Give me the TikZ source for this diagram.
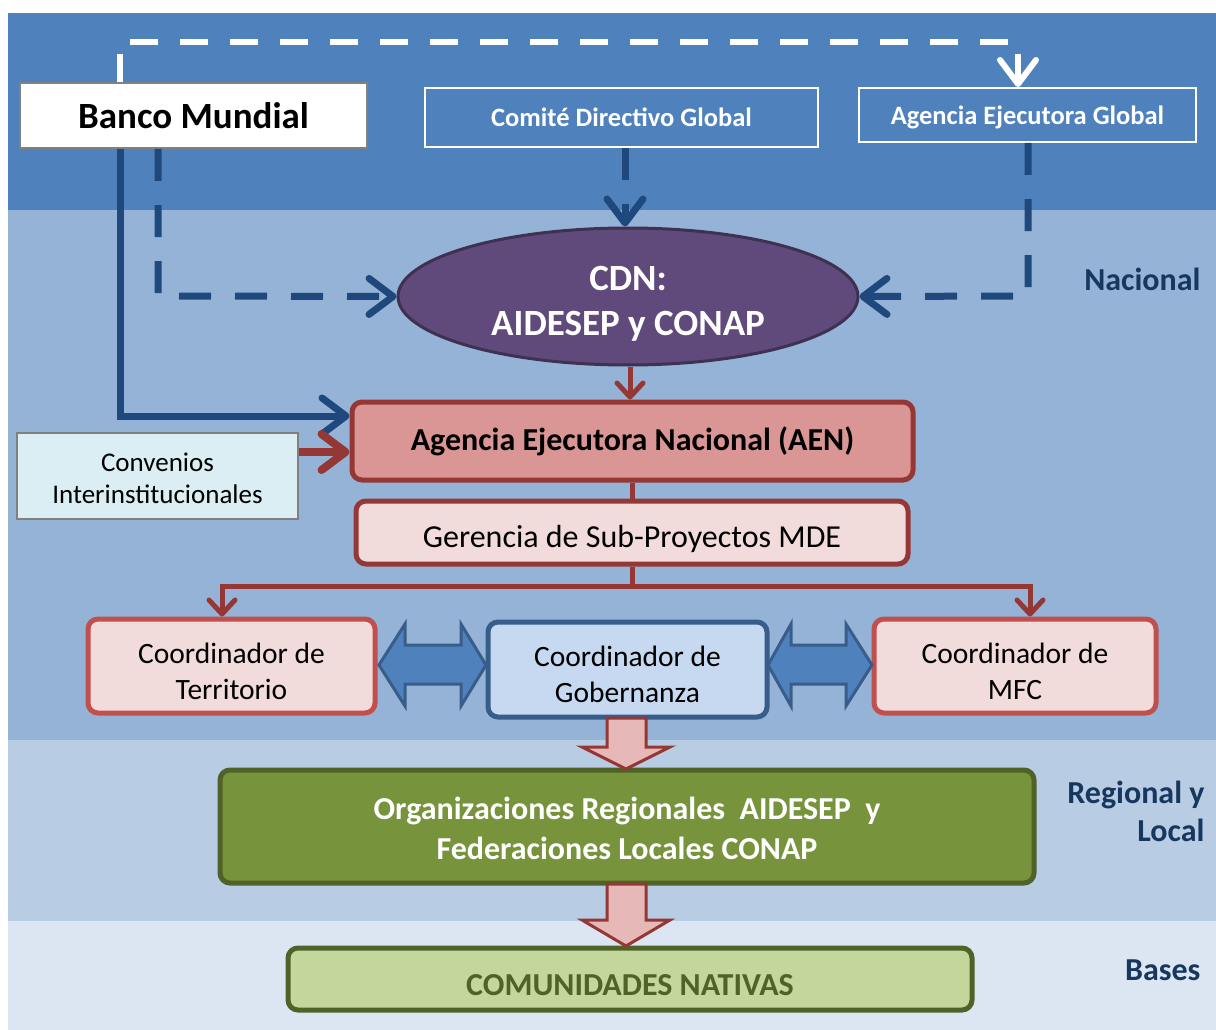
\documentclass[tikz,border=0pt]{standalone}
\usepackage{fontspec}
\setmainfont{Carlito}
\usetikzlibrary{arrows.meta,shapes.geometric,calc}
\definecolor{bandA}{HTML}{4F81BD}
\definecolor{bandB}{HTML}{95B3D7}
\definecolor{bandC}{HTML}{B8CCE4}
\definecolor{bandD}{HTML}{DCE6F2}
\definecolor{dblue}{HTML}{1F497D}
\definecolor{dred}{HTML}{953735}
\definecolor{mred}{HTML}{C0504D}
\definecolor{aenfill}{HTML}{D99694}
\definecolor{pinkfill}{HTML}{F2DCDB}
\definecolor{purp}{HTML}{604A7B}
\definecolor{purpd}{HTML}{3F3151}
\definecolor{convfill}{HTML}{DBEEF3}
\definecolor{gobfill}{HTML}{C6D9F1}
\definecolor{gobline}{HTML}{385D8A}
\definecolor{gfill}{HTML}{77933C}
\definecolor{gline}{HTML}{4F6228}
\definecolor{lgfill}{HTML}{C3D69B}
\definecolor{lblc}{HTML}{17375E}
\definecolor{arrfill}{HTML}{E6B9B8}
\newcommand{\fsz}[2]{\fontsize{#1pt}{#2pt}\selectfont}
\begin{document}
\begin{tikzpicture}[x=1pt,y=-1pt,
  box/.style={rectangle,inner sep=0pt,align=center},
  rbox/.style={box,rounded corners=10pt,line width=5pt},
  txt/.style={inner sep=0pt,align=center},
  barb/.style={-{Straight Barb[length=24pt,width=36pt,line cap=round,line join=round]}},
  sbarb/.style={-{Straight Barb[length=14pt,width=26pt,line cap=round,line join=round]}},
  bluedash/.style={dblue,line width=7pt,dash pattern=on 32pt off 24pt},
  redline/.style={dred,line width=5pt},
  blockarrow/.style={line width=3pt,line join=miter},
  lvl/.style={text=lblc,font=\bfseries\fsz{32}{38}}
]
\useasboundingbox (0,0) rectangle (1216,1030);
\fill[white] (0,0) rectangle (1216,1030);
\fill[bandA] (8,13) rectangle (1216,210);
\fill[bandB] (8,210) rectangle (1216,740);
\fill[bandC] (8,740) rectangle (1216,921);
\fill[bandD] (8,921) rectangle (1216,1030);

% nodes
\node[box,draw=gray,line width=2pt,fill=white,minimum width=347pt,minimum height=65pt,font=\bfseries\fsz{37}{44}] (bm) at (193.5,115.5) {Banco Mundial};
\node[box,draw=white,line width=2pt,minimum width=393pt,minimum height=59pt,text=white,font=\bfseries\fsz{26.5}{32}] (cdg) at (621.5,117.5) {Comité Directivo Global};
\node[box,draw=white,line width=2pt,minimum width=337pt,minimum height=54pt] (aeg) at (1027.5,115) {};
\node[txt,text=white,font=\bfseries\fsz{26.5}{32}] (aegt) at ([yshift=-2pt]aeg.center) {Agencia Ejecutora Global};
\node[ellipse,draw=purpd,fill=purp,line width=3pt,minimum width=460pt,minimum height=137pt,inner sep=0pt] (cdn) at (628,296.5) {};
\node[txt,text=white,font=\bfseries\fsz{37}{45}] (cdnt) at ([yshift=-7pt]cdn.center) {CDN:\\AIDESEP y CONAP};
\node[rbox,draw=dred,fill=aenfill,minimum width=561pt,minimum height=78pt,font=\bfseries\fsz{32}{38}] (aen) at (632.5,441) {Agencia Ejecutora Nacional (AEN)};
\node[box,draw=gray,line width=2pt,fill=convfill,minimum width=281pt,minimum height=86pt] (conv) at (157.5,476) {};
\node[txt,font=\fsz{27}{32}] (convt) at ([yshift=-2pt]conv.center) {Convenios\\Interinstitucionales};
\node[rbox,draw=dred,fill=pinkfill,minimum width=552pt,minimum height=63pt] (ger) at (632,532.5) {};
\node[txt,font=\fsz{32}{38}] (gert) at ([yshift=-6pt]ger.center) {Gerencia de Sub-Proyectos MDE};
\node[rbox,draw=mred,fill=pinkfill,minimum width=287pt,minimum height=94pt] (ter) at (231.5,666) {};
\node[txt,font=\fsz{29.5}{36}] (tert) at ([yshift=-5pt]ter.center) {Coordinador de\\Territorio};
\node[rbox,draw=gobline,fill=gobfill,minimum width=279pt,minimum height=95pt] (gob) at (627.5,669.5) {};
\node[txt,font=\fsz{29.5}{36}] (gobt) at ([yshift=-5pt]gob.center) {Coordinador de\\Gobernanza};
\node[rbox,draw=mred,fill=pinkfill,minimum width=282pt,minimum height=94pt] (mfc) at (1015,666) {};
\node[txt,font=\fsz{29.5}{36}] (mfct) at ([yshift=-5pt]mfc.center) {Coordinador de\\MFC};
\node[rbox,draw=gline,fill=gfill,minimum width=814pt,minimum height=113pt] (org) at (627,826.5) {};
\node[txt,text=white,font=\bfseries\fsz{32}{40}] (orgt) at ([yshift=-2pt]org.center) {Organizaciones Regionales\ \ AIDESEP\ \ y\\Federaciones Locales CONAP};
\node[rbox,draw=gline,fill=lgfill,minimum width=684pt,minimum height=62pt] (com) at (630,979) {};
\node[txt,text=gline,font=\bfseries\fsz{32}{38}] (comt) at ([yshift=-6pt]com.center) {COMUNIDADES NATIVAS};

\node[lvl,anchor=east] (lnac) at (1204,279) {Nacional};
\node[lvl,anchor=east,align=right] (lreg) at (1208,811) {Regional y\\Local};
\node[lvl,anchor=east] (lbas) at (1204,970) {Bases};

% white dashed connector
\coordinate (w1) at (120,42);
\coordinate (w2) at (1018,42);
\draw[white,line width=6pt,dash pattern=on 28pt off 22pt,barb] (bm.north -| w1) -- (w1) -- (w2) -- (aeg.north -| w2);

% blue dashed connectors
\draw[bluedash,barb] (cdg.south -| 625,0) -- (cdn.north -| 625,0);
\coordinate (b1) at (158,296);
\draw[bluedash,barb] (bm.south -| b1) -- (b1) -- (cdn.west);
\coordinate (b2) at (1028,296);
\draw[bluedash,barb] (aeg.south -| b2) -- (b2) -- (cdn.east);

% solid blue
\coordinate (s1) at (120,416);
\draw[dblue,line width=7pt,barb] (bm.south -| s1) -- (s1) -- (s1 -| aen.west);

% red connectors
\draw[redline,sbarb] (cdn.south -| 630,0) -- (aen.north -| 630,0);
\draw[dred,line width=8pt,barb] (conv.east |- 0,452) -- (aen.west |- 0,452);
\draw[redline] (aen.south -| 632,0) -- (ger.north -| 632,0);
\coordinate (r0) at (632,586);
\coordinate (r1) at (222,586);
\coordinate (r2) at (1030,586);
\draw[redline] (ger.south -| r0) -- (r0);
\draw[redline,sbarb] (r0) -- (r1) -- (ter.north -| r1);
\draw[redline,sbarb] (r0) -- (r2) -- (mfc.north -| r2);

% block double arrows
\draw[blockarrow,draw=gobline,fill=bandA] (379,665) -- (405,624) -- (405,645) -- (461,645) -- (461,624) -- (486,665) -- (461,706) -- (461,684) -- (405,684) -- (405,706) -- cycle;
\draw[blockarrow,draw=gobline,fill=bandA] (768,665) -- (791,624) -- (791,645) -- (846,645) -- (846,624) -- (872,665) -- (846,706) -- (846,684) -- (791,684) -- (791,706) -- cycle;

% block down arrows
\draw[blockarrow,draw=dred,fill=arrfill] (607,718) -- (646,718) -- (646,747) -- (670,747) -- (626,769) -- (582,747) -- (607,747) -- cycle;
\draw[blockarrow,draw=dred,fill=arrfill] (607,884) -- (646,884) -- (646,920) -- (670,920) -- (626,946) -- (582,920) -- (607,920) -- cycle;
\end{tikzpicture}
\end{document}
